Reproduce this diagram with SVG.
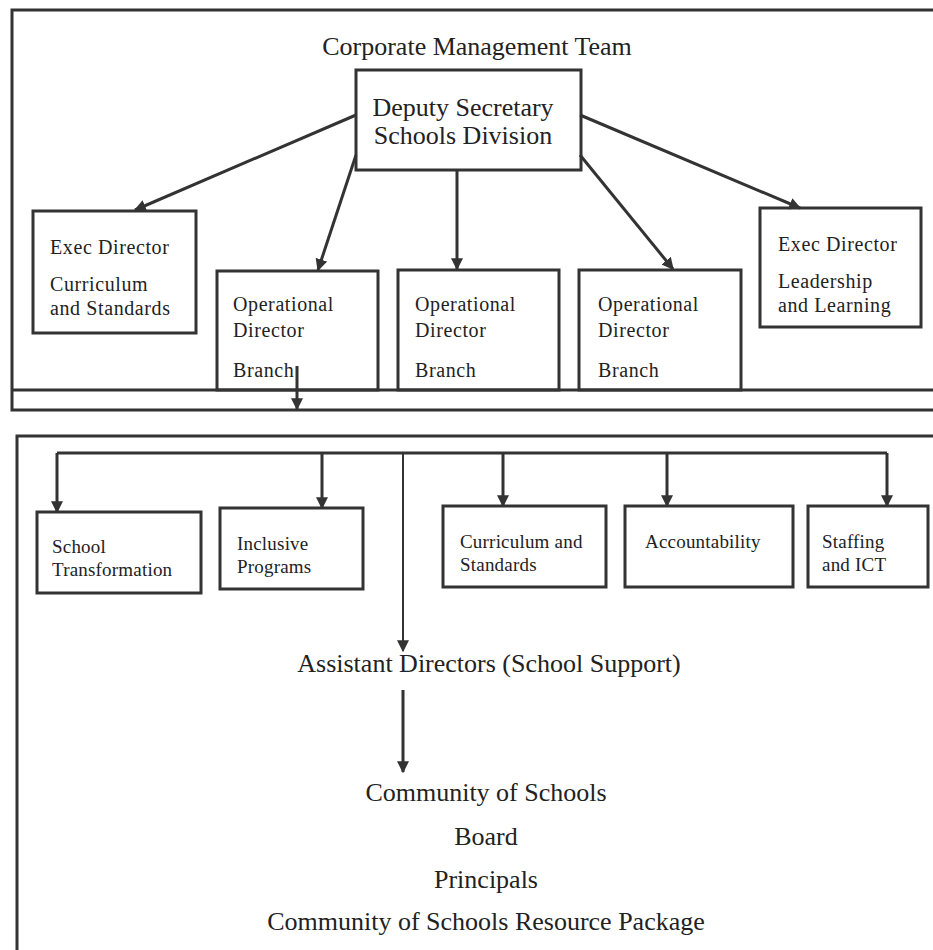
<svg xmlns="http://www.w3.org/2000/svg" width="933" height="950" viewBox="0 0 933 950">
<defs>
<marker id="ah" viewBox="0 0 10 10" refX="9" refY="5" markerWidth="12" markerHeight="12" orient="auto" markerUnits="userSpaceOnUse">
<path d="M0,0 L10,5 L0,10 z" fill="#333"/>
</marker>
<style>
.frame{fill:none;stroke:#333;stroke-width:3}
.box{fill:#fff;stroke:#333;stroke-width:3}
.t{font-family:"Liberation Serif","Times New Roman",serif;fill:#222}
.big{font-size:26px}
.mid{font-size:20px;letter-spacing:0.6px}
.sm{font-size:19px;letter-spacing:0.2px}
.c{stroke:#333;stroke-width:3;fill:none;marker-end:url(#ah)}
.thin{stroke-width:2}
.ln{stroke:#333;stroke-width:3;fill:none}
</style>
</defs>
<rect width="933" height="950" fill="#fff"/>
<g id="frames">
<path class="frame" d="M935,10 L12,10 L12,410 L935,410"/>
<path class="frame" d="M935,436 L17,436 L17,952"/>
</g>
<text class="t big" x="477" y="55" text-anchor="middle">Corporate Management Team</text>
<g id="deputy">
<rect class="box" x="356" y="70" width="225" height="100"/>
<text class="t big" x="463" y="116" text-anchor="middle">Deputy Secretary</text>
<text class="t big" x="463" y="144" text-anchor="middle">Schools Division</text>
</g>
<g id="exec-cs">
<rect class="box" x="33" y="211" width="163" height="122"/>
<text class="t mid" x="50" y="254">Exec Director</text>
<text class="t mid" x="50" y="291">Curriculum</text>
<text class="t mid" x="50" y="315">and Standards</text>
</g>
<g id="op1">
<rect class="box" x="217" y="271" width="161" height="119"/>
<text class="t mid" x="233" y="311">Operational</text>
<text class="t mid" x="233" y="337">Director</text>
<text class="t mid" x="233" y="377">Branch</text>
</g>
<g id="op2">
<rect class="box" x="398" y="270" width="161" height="120"/>
<text class="t mid" x="415" y="311">Operational</text>
<text class="t mid" x="415" y="337">Director</text>
<text class="t mid" x="415" y="377">Branch</text>
</g>
<g id="op3">
<rect class="box" x="579" y="270" width="162" height="120"/>
<text class="t mid" x="598" y="311">Operational</text>
<text class="t mid" x="598" y="337">Director</text>
<text class="t mid" x="598" y="377">Branch</text>
</g>
<g id="exec-ll">
<rect class="box" x="760" y="208" width="161" height="119"/>
<text class="t mid" x="778" y="251">Exec Director</text>
<text class="t mid" x="778" y="288">Leadership</text>
<text class="t mid" x="778" y="312">and Learning</text>
</g>
<path class="frame" d="M12,390 L935,390"/>
<g id="st">
<rect class="box" x="37" y="512" width="164" height="81"/>
<text class="t sm" x="52" y="553">School</text>
<text class="t sm" x="52" y="576">Transformation</text>
</g>
<g id="ip">
<rect class="box" x="220" y="508" width="143" height="81"/>
<text class="t sm" x="237" y="550">Inclusive</text>
<text class="t sm" x="237" y="573">Programs</text>
</g>
<g id="cs">
<rect class="box" x="443" y="506" width="163" height="81"/>
<text class="t sm" x="460" y="548">Curriculum and</text>
<text class="t sm" x="460" y="571">Standards</text>
</g>
<g id="acc">
<rect class="box" x="625" y="506" width="168" height="81"/>
<text class="t sm" x="645" y="548">Accountability</text>
</g>
<g id="sict">
<rect class="box" x="808" y="506" width="120" height="81"/>
<text class="t sm" x="822" y="548">Staffing</text>
<text class="t sm" x="822" y="571">and ICT</text>
</g>
<text class="t big" x="489" y="672" text-anchor="middle">Assistant Directors (School Support)</text>
<text class="t big" x="486" y="801" text-anchor="middle">Community of Schools</text>
<text class="t big" x="486" y="845" text-anchor="middle">Board</text>
<text class="t big" x="486" y="888" text-anchor="middle">Principals</text>
<text class="t big" x="486" y="930" text-anchor="middle">Community of Schools Resource Package</text>
<g id="connectors">
<line class="c" x1="356" y1="115" x2="135" y2="210"/>
<line class="c" x1="356" y1="155" x2="318" y2="270"/>
<line class="c" x1="457" y1="170" x2="457" y2="269"/>
<line class="c" x1="580" y1="155" x2="673" y2="269"/>
<line class="c" x1="580" y1="115" x2="800" y2="208"/>
<line class="c" x1="297" y1="366" x2="297" y2="409"/>
<path class="ln" d="M57,453 L887,453"/>
<line class="c" x1="57" y1="453" x2="57" y2="512"/>
<line class="c" x1="322" y1="453" x2="322" y2="508"/>
<line class="c" x1="503" y1="453" x2="503" y2="506"/>
<line class="c" x1="667" y1="453" x2="667" y2="506"/>
<line class="c" x1="887" y1="453" x2="887" y2="506"/>
<line class="c thin" x1="403" y1="453" x2="403" y2="651"/>
<line class="c" x1="403" y1="690" x2="403" y2="772"/>
</g>
</svg>
